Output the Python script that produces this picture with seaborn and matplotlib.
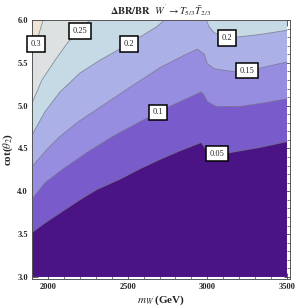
import numpy as np
import pandas as pd
import seaborn as sns
import matplotlib.pyplot as plt
from matplotlib.ticker import MultipleLocator

# contour lines of Delta BR / BR (m_W' in GeV, cot(theta_2))
m_005 = [1900, 1981, 2094, 2200, 2306, 2450, 2575, 2700, 2825, 2962, 2981, 3000, 3137, 3325, 3500]
c_005 = [3.52, 3.63, 3.77, 3.90, 4.02, 4.14, 4.26, 4.37, 4.47, 4.57, 4.52, 4.47, 4.45, 4.51, 4.58]

m_010 = [1900, 1981, 2094, 2250, 2406, 2575, 2750, 2856, 2962, 2981, 3000, 3056, 3200, 3350, 3500]
c_010 = [3.91, 4.10, 4.26, 4.46, 4.64, 4.81, 4.98, 5.07, 5.16, 5.12, 5.05, 4.99, 4.99, 5.03, 5.08]

m_015 = [1900, 1994, 2075, 2181, 2325, 2494, 2700, 2856, 2937, 2981, 3000, 3044, 3156, 3262, 3500]
c_015 = [4.29, 4.49, 4.64, 4.80, 4.98, 5.19, 5.44, 5.59, 5.66, 5.60, 5.49, 5.43, 5.40, 5.41, 5.51]

m_020a = [1900, 1981, 2075, 2200, 2325, 2506, 2681, 2731]
c_020a = [4.66, 4.93, 5.16, 5.38, 5.53, 5.72, 5.92, 6.00]
m_020b = [2994, 3012, 3044, 3137, 3325, 3500]
c_020b = [6.00, 5.92, 5.85, 5.79, 5.83, 5.88]

m_025 = [1900, 1962, 2044, 2125, 2200, 2262]
c_025 = [5.03, 5.30, 5.53, 5.74, 5.88, 6.00]

m_030 = [1900, 1937, 1969]
c_030 = [5.59, 5.80, 6.00]

label_text = ["0.3", "0.25", "0.2", "0.2", "0.15", "0.1", "0.05"]
label_m = [1925, 2200, 2506, 3125, 3250, 2688, 3062]
label_c = [5.72, 5.87, 5.72, 5.79, 5.41, 4.92, 4.44]

# region colours, from highest value (top left) to lowest
band_colors = ["#efe5d6", "#dde1e1", "#c6dae6", "#abb1e7", "#968ce0", "#7a5bcb", "#4b1484"]

sns.set_theme(style="white")
plt.rcParams["font.family"] = ["Liberation Serif", "DejaVu Serif"]
plt.rcParams["mathtext.fontset"] = "stix"

fig = plt.figure(figsize=(2.97, 3.08), dpi=100)
ax = fig.add_axes([0.108, 0.094, 0.869, 0.841])

x0, x1, y0, y1 = 1900, 3500, 3.0, 6.0

# background = highest band, then stack the regions under each line
ax.fill([x0, x1, x1, x0], [y0, y0, y1, y1], color=band_colors[0], lw=0)
lines = [
    (m_030, c_030),
    (m_025, c_025),
    (m_020a + m_020b, c_020a + c_020b),
    (m_015, c_015),
    (m_010, c_010),
    (m_005, c_005),
]
for (mm, cc), col in zip(lines, band_colors[1:]):
    px = [x0] + list(mm)
    py = [y0] + list(cc)
    if mm[-1] < x1:
        px.append(x1)
        py.append(y1)
    px.append(x1)
    py.append(y0)
    ax.fill(px, py, color=col, lw=0)

# contour lines
for mm, cc in [(m_030, c_030), (m_025, c_025), (m_020a, c_020a), (m_020b, c_020b),
               (m_015, c_015), (m_010, c_010), (m_005, c_005)]:
    df = pd.DataFrame({"m": mm, "c": cc})
    sns.lineplot(data=df, x="m", y="c", sort=False, color="#777788", lw=0.6,
                 alpha=0.8, ax=ax, estimator=None)

for t, m, c in zip(label_text, label_m, label_c):
    ax.text(m, c, t, fontsize=6, ha="center", va="center", zorder=5,
            bbox=dict(boxstyle="square,pad=0.45", fc="white", ec="black", lw=1.1),
            clip_on=False)

ax.set_xlim(1900, 3520)
ax.set_ylim(2.975, 6.0)
ax.xaxis.set_major_locator(MultipleLocator(500))
ax.xaxis.set_minor_locator(MultipleLocator(100))
ax.yaxis.set_major_locator(MultipleLocator(0.5))
ax.yaxis.set_minor_locator(MultipleLocator(0.1))
ax.set_xticks([2000, 2500, 3000, 3500])
ax.set_yticks([3.0, 3.5, 4.0, 4.5, 5.0, 5.5, 6.0])
ax.set_yticklabels(["3.0", "3.5", "4.0", "4.5", "5.0", "5.5", "6.0"])
ax.tick_params(which="both", direction="in", top=True, right=True, bottom=True, left=True,
               labelsize=6, pad=3, color="#444444")
ax.tick_params(which="major", length=4, width=0.6)
ax.tick_params(which="minor", length=2, width=0.5)
for lab in ax.get_xticklabels() + ax.get_yticklabels():
    lab.set_fontweight("bold")
for s in ax.spines.values():
    s.set_color("#555555")
    s.set_linewidth(0.7)

ax.set_xlabel(r"$m_{W^{'}}$(GeV)", fontsize=8, fontweight="bold", labelpad=2)
ax.set_ylabel(r"cot($\theta_2$)", fontsize=8, fontweight="bold", labelpad=2)
ax.set_title(r"$\mathbf{\Delta BR/BR}$  $W^{'} \rightarrow T_{5/3}\bar{T}_{2/3}$",
             fontsize=7.5, fontweight="bold", pad=4)

fig.savefig("out.png", dpi=100)
